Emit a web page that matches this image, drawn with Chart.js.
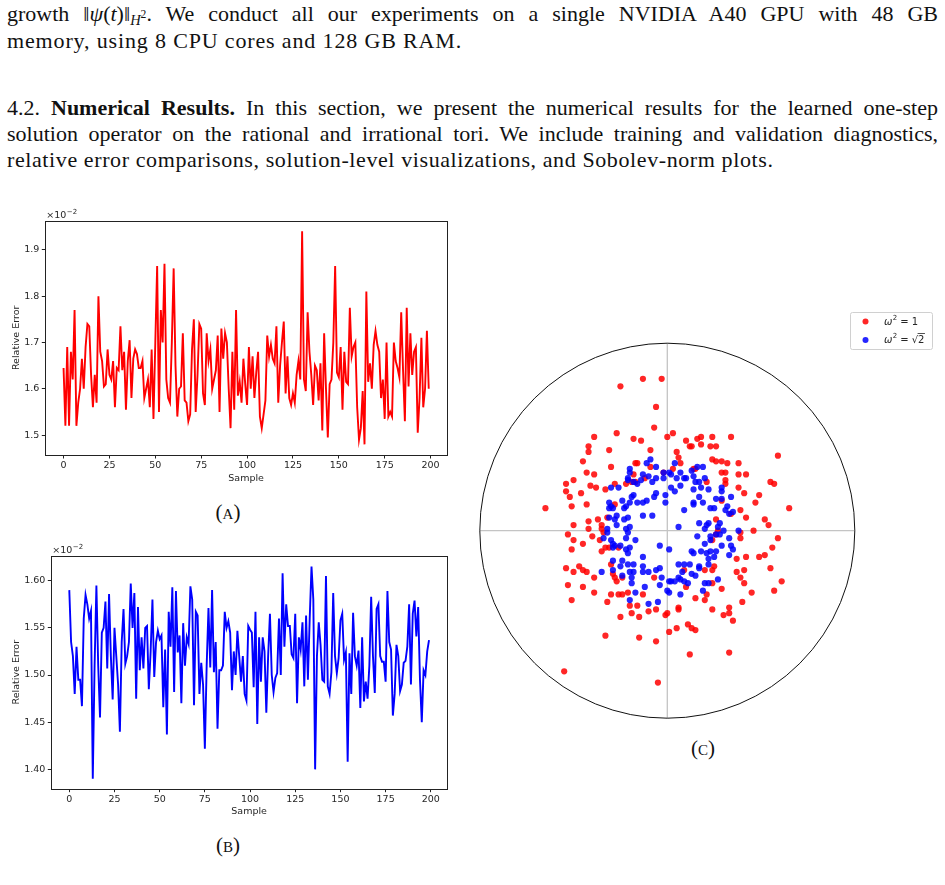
<!DOCTYPE html>
<html>
<head>
<meta charset="utf-8">
<script src="https://cdn.jsdelivr.net/npm/chart.js@4.4.1/dist/chart.umd.min.js"></script>
<style>
  html, body { margin: 0; padding: 0; background: #fff; }
  #page { position: relative; width: 945px; height: 885px; overflow: hidden; }
  .line {
    position: absolute; left: 7px; width: 931px;
    font-family: "Liberation Serif", serif; font-size: 22px; line-height: 26px;
    color: #111; white-space: nowrap;
  }
  .full { text-align: justify; text-align-last: justify; white-space: normal; letter-spacing: 0; }
  .line sub { font-size: 0.66em; vertical-align: baseline; position: relative; top: 0.3em; }
  .line sub sup { font-size: 0.8em; position: relative; top: -0.6em; vertical-align: baseline; }
  .caption {
    position: absolute; width: 100px; text-align: center;
    font-family: "Liberation Serif", serif; font-size: 21px; font-variant: small-caps; color: #111;
  }
  canvas { position: absolute; }
</style>
</head>
<body>
<div id="page">
  <div class="line full" style="top:1px">growth ‖<i>ψ</i>(<i>t</i>)‖<sub><i>H</i><sup>2</sup></sub>. We conduct all our experiments on a single NVIDIA A40 GPU with 48 GB</div>
  <div class="line" style="top:28px; letter-spacing:0.85px">memory, using 8 CPU cores and 128 GB RAM.</div>
  <div class="line full" style="top:95px">4.2. <b>Numerical Results.</b> In this section, we present the numerical results for the learned one&#8209;step</div>
  <div class="line full" style="top:121px">solution operator on the rational and irrational tori. We include training and validation diagnostics,</div>
  <div class="line" style="top:147px; letter-spacing:0.6px">relative error comparisons, solution-level visualizations, and Sobolev-norm plots.</div>

  <canvas id="chartA" width="460" height="285" style="left:0px; top:205px"></canvas>
  <div class="caption" style="left:178px; top:500px">(a)</div>

  <canvas id="chartB" width="460" height="285" style="left:0px; top:540px"></canvas>
  <div class="caption" style="left:178px; top:833px">(b)</div>

  <canvas id="chartC" width="475" height="430" style="left:470px; top:300px"></canvas>
  <div class="caption" style="left:653px; top:736px">(c)</div>
</div>

<script>
// ---- data ----

// (A) relative error per sample, rational torus (units of 1e-2)
const errorRational = [
  1.645, 1.52, 1.69, 1.52, 1.68, 1.62, 1.77, 1.52, 1.57, 1.60,
  1.665, 1.60, 1.69, 1.74, 1.735, 1.63, 1.56, 1.63, 1.57, 1.80,
  1.68, 1.66, 1.605, 1.61, 1.685, 1.63, 1.62, 1.66, 1.56, 1.645,
  1.64, 1.735, 1.64, 1.68, 1.555, 1.66, 1.705, 1.58, 1.665, 1.685,
  1.675, 1.645, 1.645, 1.66, 1.58, 1.60, 1.62, 1.56, 1.685, 1.535,
  1.70, 1.865, 1.55, 1.77, 1.70, 1.87, 1.62, 1.58, 1.57, 1.70,
  1.86, 1.65, 1.54, 1.60, 1.605, 1.72, 1.575, 1.57, 1.53, 1.545,
  1.685, 1.75, 1.55, 1.63, 1.74, 1.73, 1.59, 1.565, 1.72, 1.66,
  1.685, 1.60, 1.62, 1.64, 1.715, 1.55, 1.73, 1.665, 1.72, 1.70,
  1.60, 1.515, 1.68, 1.555, 1.77, 1.585, 1.615, 1.57, 1.665, 1.61,
  1.565, 1.69, 1.60, 1.67, 1.58, 1.635, 1.68, 1.54, 1.515, 1.545,
  1.575, 1.715, 1.67, 1.695, 1.665, 1.655, 1.735, 1.57, 1.65, 1.70,
  1.745, 1.59, 1.67, 1.58, 1.565, 1.59, 1.57, 1.63, 1.66, 1.62,
  1.94, 1.62, 1.595, 1.765, 1.68, 1.63, 1.565, 1.65, 1.64, 1.575,
  1.655, 1.51, 1.72, 1.60, 1.495, 1.61, 1.62, 1.70, 1.865, 1.635,
  1.625, 1.69, 1.555, 1.68, 1.615, 1.61, 1.775, 1.67, 1.69, 1.70,
  1.56, 1.49, 1.515, 1.595, 1.48, 1.81, 1.615, 1.655, 1.60, 1.695,
  1.725, 1.695, 1.68, 1.58, 1.62, 1.535, 1.70, 1.54, 1.55, 1.54,
  1.70, 1.66, 1.645, 1.625, 1.765, 1.64, 1.53, 1.775, 1.605, 1.72,
  1.63, 1.68, 1.69, 1.505, 1.58, 1.71, 1.56, 1.60, 1.725, 1.60
];

// (B) relative error per sample, irrational torus (units of 1e-2)
const errorIrrational = [
  1.59, 1.535, 1.52, 1.48, 1.53, 1.495, 1.495, 1.467, 1.56, 1.585,
  1.575, 1.56, 1.568, 1.39, 1.51, 1.595, 1.51, 1.455, 1.545, 1.55,
  1.578, 1.507, 1.586, 1.52, 1.474, 1.55, 1.52, 1.49, 1.44, 1.535,
  1.57, 1.512, 1.52, 1.535, 1.597, 1.55, 1.587, 1.475, 1.572, 1.505,
  1.54, 1.507, 1.55, 1.552, 1.485, 1.525, 1.58, 1.498, 1.535, 1.547,
  1.538, 1.542, 1.466, 1.527, 1.437, 1.567, 1.53, 1.593, 1.482, 1.589,
  1.524, 1.542, 1.47, 1.555, 1.51, 1.54, 1.533, 1.594, 1.58, 1.468,
  1.567, 1.563, 1.48, 1.513, 1.49, 1.422, 1.51, 1.571, 1.508, 1.59,
  1.503, 1.535, 1.443, 1.505, 1.505, 1.51, 1.567, 1.55, 1.557, 1.545,
  1.484, 1.525, 1.50, 1.547, 1.52, 1.493, 1.52, 1.48, 1.473, 1.552,
  1.548, 1.545, 1.487, 1.567, 1.448, 1.54, 1.493, 1.54, 1.525, 1.46,
  1.52, 1.565, 1.50, 1.482, 1.497, 1.502, 1.56, 1.50, 1.608, 1.53,
  1.575, 1.552, 1.552, 1.522, 1.518, 1.565, 1.47, 1.54, 1.527, 1.556,
  1.488, 1.563, 1.495, 1.56, 1.615, 1.58, 1.40, 1.52, 1.556, 1.532,
  1.495, 1.493, 1.605, 1.488, 1.48, 1.503, 1.587, 1.52, 1.502, 1.518,
  1.558, 1.565, 1.516, 1.524, 1.408, 1.523, 1.48, 1.566, 1.52, 1.51,
  1.526, 1.465, 1.54, 1.472, 1.493, 1.475, 1.51, 1.583, 1.52, 1.481,
  1.57, 1.575, 1.52, 1.514, 1.514, 1.493, 1.589, 1.535, 1.527, 1.457,
  1.48, 1.532, 1.52, 1.483, 1.49, 1.513, 1.515, 1.53, 1.575, 1.49,
  1.565, 1.579, 1.541, 1.572, 1.495, 1.45, 1.505, 1.50, 1.525, 1.537
];

// tick values
const sampleTicks = [0, 25, 50, 75, 100, 125, 150, 175, 200];
const yTicksA = [1.5, 1.6, 1.7, 1.8, 1.9];
const yTicksB = [1.40, 1.45, 1.50, 1.55, 1.60];

// (C) points in the unit disk, [x, y]
const labelOmega1 = 'ω² = 1';
const labelOmegaSqrt2 = 'ω² = √2';
const pointsOmega1 = [
  [-0.13,0.81],[-0.03,0.81],[-0.25,0.77],[-0.06,0.66],[-0.07,0.55],[-0.27,0.52],[-0.39,0.50],[-0.18,0.49],[-0.14,0.48],[0.00,0.50],
  [0.03,0.52],[0.10,0.48],[0.16,0.49],[0.18,0.50],[0.24,0.50],[0.34,0.50],[-0.42,0.45],[-0.42,0.42],[-0.31,0.43],[-0.09,0.43],
  [0.12,0.45],[0.13,0.45],[0.18,0.46],[0.23,0.45],[0.26,0.45],[0.05,0.42],[0.06,0.39],[0.07,0.36],[-0.45,0.37],[-0.30,0.34],
  [-0.17,0.36],[-0.16,0.36],[-0.09,0.34],[0.24,0.38],[0.26,0.37],[0.29,0.37],[0.32,0.36],[0.38,0.36],[0.59,0.40],[-0.43,0.31],
  [-0.39,0.30],[-0.54,0.25],[-0.50,0.27],[-0.54,0.21],[-0.52,0.18],[-0.46,0.20],[-0.41,0.24],[-0.38,0.23],[-0.33,0.22],[-0.28,0.25],
  [-0.22,0.25],[-0.19,0.26],[-0.18,0.30],[-0.17,0.26],[-0.12,0.28],[-0.02,0.31],[0.03,0.33],[0.14,0.33],[0.15,0.33],[0.21,0.26],
  [0.29,0.31],[0.31,0.31],[0.31,0.27],[0.31,0.25],[0.38,0.30],[0.42,0.30],[0.38,0.23],[0.41,0.20],[0.49,0.19],[0.55,0.26],
  [0.57,0.25],[0.47,0.15],[0.65,0.12],[-0.65,0.12],[-0.51,0.13],[-0.43,0.14],[0.29,0.16],[0.34,0.09],[0.39,0.11],[0.42,0.07],
  [0.52,0.06],[0.54,0.03],[-0.28,0.14],[-0.32,0.07],[-0.42,0.05],[-0.37,0.06],[-0.42,0.01],[-0.50,0.03],[-0.35,0.03],[0.46,0.00],
  [0.39,-0.01],[0.39,-0.04],[0.26,0.06],[0.59,-0.04],[-0.53,-0.02],[-0.50,-0.05],[-0.40,-0.03],[-0.36,-0.05],[-0.51,-0.10],[-0.45,-0.07],
  [-0.33,-0.09],[-0.31,-0.09],[-0.35,-0.11],[-0.26,-0.09],[0.56,-0.09],[0.49,-0.14],[0.52,-0.13],[0.37,-0.15],[0.42,-0.14],[0.55,-0.20],
  [0.61,-0.27],[0.57,-0.32],[0.45,-0.33],[0.41,-0.28],[0.41,-0.21],[0.39,-0.25],[0.37,-0.22],[-0.54,-0.20],[-0.50,-0.22],[-0.47,-0.19],
  [-0.45,-0.21],[-0.43,-0.22],[-0.39,-0.25],[-0.30,-0.18],[-0.29,-0.23],[-0.27,-0.27],[-0.28,-0.25],[-0.24,-0.25],[-0.53,-0.29],[-0.45,-0.30],
  [-0.39,-0.33],[-0.51,-0.37],[-0.32,-0.38],[-0.30,-0.34],[-0.26,-0.34],[-0.24,-0.34],[-0.21,-0.33],[-0.13,-0.34],[-0.20,-0.40],[-0.16,-0.40],
  [-0.19,-0.44],[-0.15,-0.46],[-0.25,-0.46],[-0.10,-0.43],[-0.06,-0.42],[-0.01,-0.45],[0.00,-0.44],[0.06,-0.42],[0.06,-0.41],[-0.07,-0.25],
  [0.09,-0.21],[0.10,-0.30],[0.15,-0.36],[0.20,-0.37],[0.21,-0.34],[0.20,-0.21],[0.24,-0.21],[0.25,-0.19],[0.24,-0.28],[0.29,-0.31],
  [0.24,-0.42],[0.30,-0.45],[0.33,-0.41],[0.33,-0.44],[0.35,-0.48],[0.40,-0.38],[0.01,-0.54],[0.05,-0.52],[0.11,-0.50],[0.13,-0.52],
  [0.15,-0.53],[-0.33,-0.56],[-0.15,-0.57],[-0.06,-0.59],[0.12,-0.66],[0.33,-0.65],[-0.55,-0.75],[-0.05,-0.81],[0.27,0.00],[0.26,-0.02],
  [0.24,-0.05],[-0.34,-0.01],[-0.35,0.01]
];
const pointsOmegaSqrt2 = [
  [-0.09,0.38],[-0.11,0.36],[-0.06,0.34],[-0.20,0.33],[-0.20,0.31],[-0.13,0.30],[-0.21,0.27],[-0.18,0.26],[-0.16,0.25],[-0.14,0.27],
  [-0.10,0.29],[-0.08,0.26],[-0.06,0.28],[-0.02,0.28],[-0.02,0.31],[0.01,0.31],[0.02,0.30],[0.04,0.36],[0.07,0.31],[0.09,0.28],
  [0.05,0.28],[0.13,0.32],[0.16,0.34],[0.19,0.34],[0.14,0.29],[0.15,0.26],[0.20,0.28],[0.18,0.23],[0.22,0.22],[0.14,0.22],
  [0.02,0.23],[0.04,0.21],[0.07,0.24],[-0.01,0.19],[-0.06,0.20],[-0.07,0.18],[-0.11,0.16],[-0.13,0.15],[-0.18,0.19],[-0.19,0.18],
  [-0.20,0.15],[-0.22,0.13],[-0.23,0.12],[-0.24,0.16],[-0.26,0.23],[-0.30,0.23],[-0.31,0.15],[-0.30,0.13],[-0.31,0.12],[-0.29,0.12],
  [-0.27,0.08],[-0.31,0.07],[-0.28,0.06],[-0.32,0.01],[-0.27,0.03],[-0.23,0.06],[-0.21,0.07],[-0.20,0.02],[-0.22,0.01],[-0.21,-0.01],
  [-0.22,-0.04],[-0.17,-0.05],[-0.34,-0.04],[-0.30,-0.05],[-0.29,-0.07],[-0.28,-0.08],[-0.25,-0.08],[-0.22,-0.10],[-0.20,-0.09],[-0.21,-0.12],
  [-0.29,-0.16],[-0.24,-0.16],[-0.21,-0.18],[-0.18,-0.18],[-0.13,-0.14],[-0.13,-0.19],[-0.35,-0.22],[-0.29,-0.21],[-0.25,-0.19],[-0.24,-0.24],
  [-0.20,-0.22],[-0.18,-0.22],[-0.19,-0.25],[-0.19,-0.28],[-0.13,-0.22],[-0.10,-0.22],[-0.06,-0.21],[-0.04,-0.20],[-0.03,-0.25],[0.01,-0.27],
  [0.02,-0.27],[0.04,-0.27],[0.07,-0.26],[0.09,-0.27],[0.11,-0.28],[0.06,-0.18],[0.09,-0.18],[0.12,-0.18],[0.08,-0.22],[0.13,-0.23],
  [0.15,-0.24],[0.17,-0.20],[0.17,-0.19],[0.22,-0.18],[0.22,-0.15],[0.23,-0.11],[0.26,-0.11],[0.20,-0.07],[0.18,-0.11],[0.13,-0.11],
  [0.16,-0.03],[0.17,0.04],[0.21,0.03],[0.22,0.04],[0.20,0.01],[0.23,-0.03],[0.27,0.02],[0.28,0.04],[0.30,0.00],[0.28,-0.02],
  [0.29,-0.08],[0.34,-0.08],[0.35,-0.10],[0.33,-0.13],[0.38,0.00],[0.33,-0.04],[-0.01,0.15],[-0.13,0.08],[-0.08,0.08],[0.06,0.02],
  [-0.04,-0.08],[0.01,-0.10],[0.09,0.11],[0.14,0.14],[0.14,0.15],[0.19,0.15],[0.17,0.18],[0.23,0.12],[0.25,0.12],[0.26,0.17],
  [0.29,0.23],[0.29,0.21],[0.31,0.11],[0.32,0.13],[0.34,0.18],[0.35,0.10],[0.33,0.09],[0.01,-0.33],[0.00,-0.32],[0.07,-0.34],
  [0.19,-0.32],[0.20,-0.28],[0.22,-0.28],[0.27,-0.26],[-0.05,-0.38],[-0.10,-0.39],[-0.17,-0.33],[-0.20,-0.37],[-0.12,-0.30],[-0.04,-0.29],
  [0.06,-0.25],[0.26,-0.02],[0.23,-0.05],[0.21,-0.12],[0.25,-0.14],[0.14,-0.12],[-0.32,-0.01],[-0.29,-0.09],[-0.16,0.15],[-0.21,0.28],
  [0.10,0.28],[0.17,0.26],[0.29,0.17]
];

// ---- shared styling (matplotlib look) ----
const TICK_FONT = { family: 'DejaVu Sans', size: 9.5 };
const TEXT_COLOR = '#262626';

// Box around the plot area plus the "×10⁻²" offset label
const mplFramePlugin = {
  id: 'mplFrame',
  afterDraw(chart) {
    const { ctx, chartArea: a } = chart;
    ctx.save();
    ctx.strokeStyle = '#222';
    ctx.lineWidth = 1;
    ctx.strokeRect(Math.round(a.left) + 0.5, Math.round(a.top) + 0.5,
      Math.round(a.right - a.left), Math.round(a.bottom - a.top));

    ctx.fillStyle = TEXT_COLOR;
    ctx.textBaseline = 'alphabetic';
    ctx.font = '9.5px "DejaVu Sans"';
    ctx.fillText('×10', a.left + 1, a.top - 2.5);
    const w = ctx.measureText('×10').width;
    ctx.font = '7px "DejaVu Sans"';
    ctx.fillText('−2', a.left + 1.5 + w, a.top - 6.5);
    ctx.restore();
  }
};

/**
 * Builds one of the two "Relative Error vs Sample" panels.
 */
function makeErrorChart(canvasId, values, color, yTicks, yRange, digits, yAxisWidth, xAxisHeight, titlePad) {
  const points = values.map((v, i) => ({ x: i, y: v }));
  return new Chart(document.getElementById(canvasId), {
    type: 'line',
    data: {
      datasets: [{
        data: points,
        borderColor: color,
        borderWidth: 1.9,
        pointRadius: 0,
        tension: 0,
        fill: false
      }]
    },
    options: {
      responsive: false,
      devicePixelRatio: 1,
      animation: false,
      layout: { padding: { left: 0, top: 15.7, right: 13, bottom: 0 } },
      plugins: { legend: { display: false }, tooltip: { enabled: false } },
      scales: {
        x: {
          type: 'linear',
          min: -9.95,
          max: 208.95,
          afterBuildTicks: s => { s.ticks = sampleTicks.map(v => ({ value: v })); },
          afterFit: s => { s.height = xAxisHeight; },
          ticks: { font: TICK_FONT, color: TEXT_COLOR, padding: 1.5, maxRotation: 0, autoSkip: false },
          grid: { drawOnChartArea: false, drawTicks: true, tickLength: 3.5, tickColor: '#222', tickWidth: 1 },
          border: { display: false },
          title: {
            display: true, text: 'Sample', color: TEXT_COLOR,
            font: { family: 'DejaVu Sans', size: 9.5 }, padding: { top: 0, bottom: titlePad.x }
          }
        },
        y: {
          type: 'linear',
          min: yRange[0],
          max: yRange[1],
          afterBuildTicks: s => { s.ticks = yTicks.map(v => ({ value: v })); },
          afterFit: s => { s.width = yAxisWidth; },
          ticks: { font: TICK_FONT, color: TEXT_COLOR, padding: 2.5, callback: v => v.toFixed(digits) },
          grid: { drawOnChartArea: false, drawTicks: true, tickLength: 3.5, tickColor: '#222', tickWidth: 1 },
          border: { display: false },
          title: {
            display: true, text: 'Relative Error', color: TEXT_COLOR,
            font: { family: 'DejaVu Sans', size: 9.5 }, padding: { top: titlePad.y, bottom: 0 }
          }
        }
      }
    },
    plugins: [mplFramePlugin]
  });
}

makeErrorChart('chartA', errorRational, '#ff0000', yTicksA, [1.457, 1.963], 1, 45.3, 35, { x: 6, y: 11 });
makeErrorChart('chartB', errorIrrational, '#0000ff', yTicksB, [1.3795, 1.6265], 2, 51.3, 36.3, { x: 7.6, y: 11 });

// ---- (C) scatter inside the unit circle ----

// Unit circle and light axes through the origin, drawn under the points
const diskPlugin = {
  id: 'unitDisk',
  beforeDatasetsDraw(chart) {
    const { ctx, scales: { x, y } } = chart;
    const cx = x.getPixelForValue(0), cy = y.getPixelForValue(0);
    const r = x.getPixelForValue(1) - cx;
    ctx.save();
    ctx.strokeStyle = '#c4c4c4';
    ctx.lineWidth = 1.3;
    ctx.beginPath();
    ctx.moveTo(x.getPixelForValue(-1), cy); ctx.lineTo(x.getPixelForValue(1), cy);
    ctx.moveTo(cx, y.getPixelForValue(1)); ctx.lineTo(cx, y.getPixelForValue(-1));
    ctx.stroke();
    ctx.strokeStyle = '#111';
    ctx.lineWidth = 1;
    ctx.beginPath();
    ctx.arc(cx, cy, r, 0, Math.PI * 2);
    ctx.stroke();
    ctx.restore();
  }
};

// Draws "ω² = ..." roughly the way mathtext would
function drawOmegaLabel(ctx, text, x, y) {
  const rest = text.split('=')[1].trim();
  ctx.textBaseline = 'middle';
  ctx.font = 'italic 10px "DejaVu Sans"';
  ctx.fillText('ω', x, y + 0.5);
  let px = x + ctx.measureText('ω').width + 0.5;
  ctx.font = '7px "DejaVu Sans"';
  ctx.fillText('2', px, y - 3.5);
  px += ctx.measureText('2').width + 3;
  ctx.font = '10px "DejaVu Sans"';
  ctx.fillText('=', px, y + 0.5);
  px += ctx.measureText('=').width + 3;
  ctx.fillText(rest, px, y + 0.5);
  if (rest.startsWith('√')) {
    const rootW = ctx.measureText('√').width;
    const numW = ctx.measureText(rest.slice(1)).width;
    ctx.beginPath();
    ctx.lineWidth = 0.8;
    ctx.moveTo(px + rootW - 0.5, y - 6.5);
    ctx.lineTo(px + rootW + numW + 0.5, y - 6.5);
    ctx.stroke();
  }
}

const diskLegendPlugin = {
  id: 'diskLegend',
  afterDraw(chart) {
    const ctx = chart.ctx;
    const bx = 380, by = 12, bw = 82, bh = 37;
    ctx.save();
    ctx.fillStyle = 'rgba(255,255,255,0.9)';
    ctx.strokeStyle = '#d0d0d0';
    ctx.lineWidth = 1;
    ctx.beginPath();
    ctx.roundRect(bx + 0.5, by + 0.5, bw, bh, 2);
    ctx.fill();
    ctx.stroke();
    chart.data.datasets.forEach((ds, i) => {
      const rowY = by + 9.5 + i * 18.5;
      ctx.fillStyle = ds.backgroundColor;
      ctx.beginPath();
      ctx.arc(bx + 15.5, rowY, 3, 0, Math.PI * 2);
      ctx.fill();
      ctx.fillStyle = TEXT_COLOR;
      ctx.strokeStyle = TEXT_COLOR;
      drawOmegaLabel(ctx, ds.label, bx + 34, rowY);
    });
    ctx.restore();
  }
};

new Chart(document.getElementById('chartC'), {
  type: 'scatter',
  data: {
    datasets: [
      {
        label: labelOmega1,
        data: pointsOmega1.map(p => ({ x: p[0], y: p[1] })),
        backgroundColor: 'rgba(255,0,0,0.85)',
        borderWidth: 0,
        pointRadius: 3.1,
        order: 2
      },
      {
        label: labelOmegaSqrt2,
        data: pointsOmegaSqrt2.map(p => ({ x: p[0], y: p[1] })),
        backgroundColor: 'rgba(0,0,255,0.85)',
        borderWidth: 0,
        pointRadius: 3.1,
        order: 1
      }
    ]
  },
  options: {
    responsive: false,
    devicePixelRatio: 1,
    animation: false,
    layout: { padding: { left: 9.8, top: 43.2, right: 90.2, bottom: 11.8 } },
    plugins: { legend: { display: false }, tooltip: { enabled: false } },
    scales: {
      x: { type: 'linear', min: -1, max: 1, display: false },
      y: { type: 'linear', min: -1, max: 1, display: false }
    }
  },
  plugins: [diskPlugin, diskLegendPlugin]
});
</script>
</body>
</html>
